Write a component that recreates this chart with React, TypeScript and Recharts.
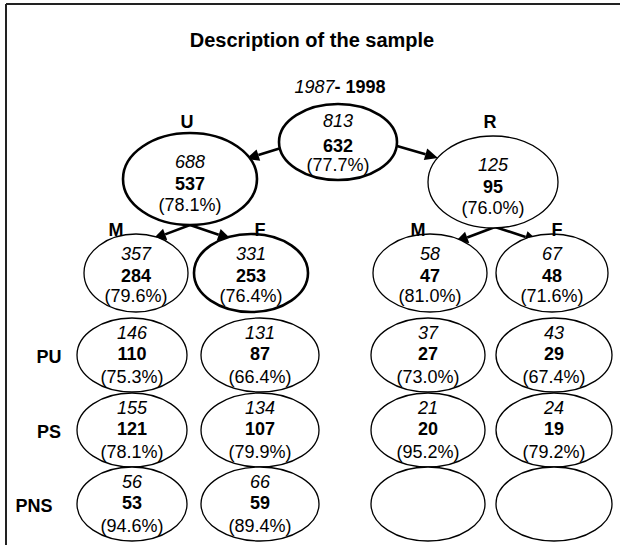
import React from "react";
import { ScatterChart, Scatter, XAxis, YAxis, ReferenceLine } from "recharts";

// values: italic = sample size, bold = respondents, (share)
const rootTotal = 813;
const rootCases = 632;
const rootShare = 77.7;

const areaLabels = ["U", "R"];
const areaTotals = [688, 125];
const areaCases = [537, 95];
const areaShares = [78.1, 76.0];

const sexLabels = ["M", "F", "M", "F"];
const sexTotals = [357, 331, 58, 67];
const sexCases = [284, 253, 47, 48];
const sexShares = [79.6, 76.4, 81.0, 71.6];

const schoolLabels = ["PU", "PS", "PNS"];
const puTotals = [146, 131, 37, 43];
const puCases = [110, 87, 27, 29];
const puShares = [75.3, 66.4, 73.0, 67.4];
const psTotals = [155, 134, 21, 24];
const psCases = [121, 107, 20, 19];
const psShares = [78.1, 79.9, 95.2, 79.2];
const pnsTotals = [56, 66, null, null];
const pnsCases = [53, 59, null, null];
const pnsShares = [94.6, 89.4, null, null];

const title = "Description of the sample";
const periodStart = "1987";
const periodEnd = "1998";

// layout of the tree (chart units, 1 unit = 1px)
const W = 620;
const H = 545;
const rootPos = { x: 338, y: 142 };
const areaX = [190, 493];
const areaY = [179, 182];
const sexX = [136, 251, 430, 552];
const sexY = 273;
const cellX = [132, 260, 428, 554];
const cellY = [355, 430, 504];
const schoolLabelX = [49, 49, 34];
const sexLabelX = [116, 260, 418, 557];

const levelStyle: Record<string, { ry: number; lines: number[] }> = {
  root: { ry: 38, lines: [-15, 10, 29] },
  area: { ry: 46, lines: [-11, 11, 32] },
  sex: { ry: 39, lines: [-13, 9, 29] },
  cell: { ry: 37, lines: [-16, 5, 28] },
};
const rootRx = 59;
const areaRx = [67, 65];
const sexRx = [52, 57, 57, 56];
const cellRx = [55, 59, 57, 58];
const thickNodes = ["root", "area-0", "sex-1"];

const FONT = "'Liberation Sans', Arial, Helvetica, sans-serif";

const mk = (id: string, level: string, x: number, y: number, rx: number, total: any, cases: any, share: any) => ({
  id,
  level,
  x,
  y,
  rx,
  ry: levelStyle[level].ry,
  lines: levelStyle[level].lines,
  total,
  cases,
  share,
  thick: thickNodes.includes(id),
});

const nodes = [
  mk("root", "root", rootPos.x, rootPos.y, rootRx, rootTotal, rootCases, rootShare),
  ...areaTotals.map((t, i) => mk(`area-${i}`, "area", areaX[i], areaY[i], areaRx[i], t, areaCases[i], areaShares[i])),
  ...sexTotals.map((t, i) => mk(`sex-${i}`, "sex", sexX[i], sexY, sexRx[i], t, sexCases[i], sexShares[i])),
  ...[
    [puTotals, puCases, puShares],
    [psTotals, psCases, psShares],
    [pnsTotals, pnsCases, pnsShares],
  ].flatMap(([tot, cas, sh], r) =>
    tot.map((t, i) => mk(`cell-${r}-${i}`, "cell", cellX[i], cellY[r], cellRx[i], t, cas[i], sh[i]))
  ),
];

const labels = [
  ...areaLabels.map((t, i) => ({ x: areaX[i] - 3, y: 128, text: t })),
  ...sexLabels.map((t, i) => ({ x: sexLabelX[i], y: 236, text: t })),
  ...schoolLabels.map((t, i) => ({ x: schoolLabelX[i], y: cellY[i] + 8, text: t })),
];

const titleData = [{ x: 312, y: 47, text: title }];
const periodData = [{ x: 340, y: 93 }];

// parent -> child arrows
const arrows = [
  { from: { x: 281, y: 148 }, to: { x: 246, y: 159 } },
  { from: { x: 397, y: 146 }, to: { x: 438, y: 158 } },
  { from: { x: 190, y: 225 }, to: { x: 153, y: 239 } },
  { from: { x: 190, y: 225 }, to: { x: 231, y: 239 } },
  { from: { x: 495, y: 227 }, to: { x: 455, y: 242 } },
  { from: { x: 495, y: 227 }, to: { x: 538, y: 241 } },
];

function NodeShape(props: any) {
  const { cx, cy, payload: n } = props;
  return (
    <g>
      <ellipse
        cx={cx}
        cy={cy}
        rx={n.rx}
        ry={n.ry}
        fill="#fff"
        stroke="#000"
        strokeWidth={n.thick ? 2.6 : 1.3}
      />
      {n.total != null && (
        <g fontFamily={FONT} fontSize={18} fill="#000" textAnchor="middle">
          <text x={cx} y={cy + n.lines[0]} fontStyle="italic">
            {n.total}
          </text>
          <text x={cx} y={cy + n.lines[1]} fontWeight="bold">
            {n.cases}
          </text>
          <text x={cx} y={cy + n.lines[2]}>
            ({n.share.toFixed(1)}%)
          </text>
        </g>
      )}
    </g>
  );
}

function LabelShape(props: any) {
  const { cx, cy, payload } = props;
  return (
    <text x={cx} y={cy} textAnchor="middle" fontFamily={FONT} fontSize={18} fontWeight="bold" fill="#000">
      {payload.text}
    </text>
  );
}

function TitleShape(props: any) {
  const { cx, cy, payload } = props;
  return (
    <text x={cx} y={cy} textAnchor="middle" fontFamily={FONT} fontSize={20} fontWeight="bold" fill="#000">
      {payload.text}
    </text>
  );
}

function PeriodShape(props: any) {
  const { cx, cy } = props;
  return (
    <text x={cx} y={cy} textAnchor="middle" fontFamily={FONT} fontSize={18} fill="#000">
      <tspan fontStyle="italic">{periodStart}</tspan>
      <tspan fontWeight="bold">{`- ${periodEnd}`}</tspan>
    </text>
  );
}

function ArrowShape(props: any) {
  const { x1, y1, x2, y2 } = props;
  const a = Math.atan2(y2 - y1, x2 - x1);
  const len = 13;
  const half = 6;
  const bx = x2 - len * Math.cos(a);
  const by = y2 - len * Math.sin(a);
  const pts = [
    [x2, y2],
    [bx + half * Math.sin(a), by - half * Math.cos(a)],
    [bx - half * Math.sin(a), by + half * Math.cos(a)],
  ]
    .map((p) => p.join(","))
    .join(" ");
  return (
    <g>
      <line x1={x1} y1={y1} x2={bx} y2={by} stroke="#000" strokeWidth={2.6} />
      <polygon points={pts} fill="#000" />
    </g>
  );
}

export default function App() {
  return (
    <div style={{ position: "absolute", left: 0, top: 0, background: "#fff" }}>
      <ScatterChart width={W} height={H} margin={{ top: 0, right: 0, bottom: 0, left: 0 }}>
        <XAxis type="number" dataKey="x" domain={[0, W]} hide allowDataOverflow />
        <YAxis type="number" dataKey="y" domain={[0, H]} reversed hide allowDataOverflow />
        <ReferenceLine segment={[{ x: 6, y: 4 }, { x: W, y: 4 }]} stroke="#222" strokeWidth={2} ifOverflow="visible" />
        <ReferenceLine segment={[{ x: 6, y: 4 }, { x: 6, y: H }]} stroke="#222" strokeWidth={2} ifOverflow="visible" />
        {arrows.map((ar, i) => (
          <ReferenceLine key={i} segment={[ar.from, ar.to]} shape={ArrowShape} ifOverflow="visible" />
        ))}
        <Scatter data={nodes} shape={NodeShape} isAnimationActive={false} />
        <Scatter data={labels} shape={LabelShape} isAnimationActive={false} />
        <Scatter data={titleData} shape={TitleShape} isAnimationActive={false} />
        <Scatter data={periodData} shape={PeriodShape} isAnimationActive={false} />
      </ScatterChart>
    </div>
  );
}
